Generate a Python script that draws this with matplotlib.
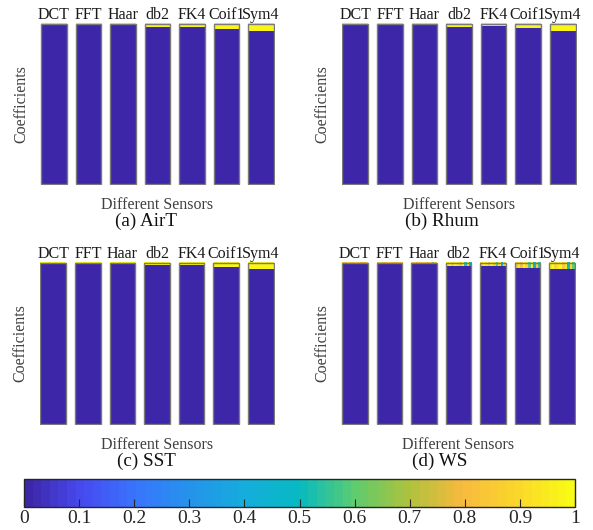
import matplotlib
matplotlib.use('Agg')
import matplotlib.pyplot as plt
import numpy as np
from matplotlib.colors import LinearSegmentedColormap, Normalize
from matplotlib.cm import ScalarMappable
from matplotlib.patches import Rectangle

plt.rcParams['font.family'] = ['Liberation Serif', 'DejaVu Serif']

# ---- data ----
METHODS = ['DCT', 'FFT', 'Haar', 'db2', 'FK4', 'Coif1', 'Sym4']
CAPTIONS = ['(a) AirT', '(b) Rhum', '(c) SST', '(d) WS']
N_COEF = 160      # coefficients (rows of each bar)
N_SENS = 10       # sensors (columns of each bar)

# rows of large (normalised) coefficients at the top of each bar
BAND_AIRT = [2, 2, 2, 4, 4, 6, 8]
BAND_RHUM = [2, 2, 2, 4, 3, 5, 8]
BAND_SST = [2, 2, 2, 3, 3, 5, 7]
BAND_WS = [2, 2, 2, 4, 4, 6, 7]
BAND_LEVEL = 0.98  # AirT / Rhum / SST: uniform yellow band

# WS: level of the top band per sensor
WS_DCT = [0.85, 0.80, 0.90, 0.85, 0.80, 0.90, 0.85, 0.75, 0.80, 0.85]
WS_FFT = [0.80, 0.85, 0.75, 0.80, 0.85, 0.80, 0.75, 0.80, 0.85, 0.80]
WS_HAAR = [0.85, 0.90, 0.80, 0.85, 0.90, 0.85, 0.80, 0.90, 0.60, 0.85]
WS_DB2 = [0.95, 1.00, 0.90, 1.00, 0.95, 0.85, 1.00, 0.55, 0.90, 0.50]
WS_FK4 = [0.90, 1.00, 0.95, 0.85, 1.00, 0.90, 0.60, 0.95, 0.50, 0.90]
WS_COIF1 = [0.85, 0.95, 0.80, 1.00, 0.90, 0.60, 0.95, 0.45, 0.85, 0.55]
WS_SYM4 = [0.95, 1.00, 0.90, 0.95, 1.00, 0.85, 0.95, 0.50, 0.90, 0.60]

CB_TICKS = [0, 0.1, 0.2, 0.3, 0.4, 0.5, 0.6, 0.7, 0.8, 0.9, 1]
CB_LABELS = ['0', '0.1', '0.2', '0.3', '0.4', '0.5', '0.6', '0.7', '0.8', '0.9', '1']

# parula-like colormap
PARULA = [(0.2422, 0.1504, 0.6603), (0.2760, 0.2930, 0.9400), (0.2200, 0.4600, 0.9900),
          (0.1400, 0.5800, 0.9200), (0.0800, 0.6800, 0.8600), (0.0200, 0.7300, 0.7600),
          (0.3600, 0.8000, 0.4400), (0.6800, 0.7600, 0.2400), (0.9700, 0.7300, 0.2400),
          (0.9800, 0.8400, 0.1700), (0.9769, 0.9839, 0.0805)]
cmap = LinearSegmentedColormap.from_list('parula', PARULA, N=64)

W, H = 593, 530
fig = plt.figure(figsize=(W / 100, H / 100), dpi=100, facecolor='white')


def px_axes(left, top, width, height):
    return fig.add_axes([left / W, 1 - (top + height) / H, width / W, height / H])


BAR_W = 26.0
PITCH = 34.8
# panel boxes in pixels: left, top, width, height
PANELS = [(40, 23, 235, 162), (341.5, 23, 235, 162), (39.5, 262, 235, 163), (341, 262, 235, 163)]
CAP_X = [146, 442, 146, 440]

bands = [BAND_AIRT, BAND_RHUM, BAND_SST, BAND_WS]
ws_levels = [WS_DCT, WS_FFT, WS_HAAR, WS_DB2, WS_FK4, WS_COIF1, WS_SYM4]

for p, (left, top, w, h) in enumerate(PANELS):
    ax = px_axes(left, top, w, h)
    for i, m in enumerate(METHODS):
        mat = np.zeros((N_COEF, N_SENS))
        k = bands[p][i]
        if p == 3:
            mat[:k, :] = np.array(ws_levels[i])[None, :]
        else:
            mat[:k, :] = BAND_LEVEL
        x0 = i * PITCH
        ax.imshow(mat, cmap=cmap, vmin=0, vmax=1, extent=(x0, x0 + BAR_W, N_COEF, 0),
                  origin='upper', aspect='auto', interpolation='nearest')
        ax.add_patch(Rectangle((x0, 0), BAR_W, N_COEF, fill=False, ec='#7a7a7a', lw=1.0))
        ax.annotate(m, (x0 + BAR_W / 2, 0), xytext=(0, 3.6), textcoords='offset points',
                    ha='center', va='baseline', fontsize=11.5, color='#1a1a1a',
                    annotation_clip=False)
    ax.set_xlim(-1, 6 * PITCH + BAR_W + 1)
    ax.set_ylim(N_COEF + 0.8, -0.8)
    ax.axis('off')

    cx = left + w / 2
    fig.text((left - 19) / W, 1 - (top + h / 2) / H, 'Coefficients', rotation=90,
             ha='center', va='center', fontsize=11.5, color='#404040')
    fig.text(cx / W, 1 - (top + h + 20) / H, 'Different Sensors',
             ha='center', va='center', fontsize=11.5, color='#404040')
    fig.text(CAP_X[p] / W, 1 - (top + h + 36) / H, CAPTIONS[p],
             ha='center', va='center', fontsize=13.8, color='#111111')

# colorbar
cax = px_axes(24, 479, 551, 28)
cb = fig.colorbar(ScalarMappable(norm=Normalize(0, 1), cmap=cmap), cax=cax,
                  orientation='horizontal', ticks=CB_TICKS)
cb.ax.set_xticklabels(CB_LABELS)
cb.ax.tick_params(direction='in', length=6, width=0.8, labelsize=14, pad=2,
                  colors='#262626')
cb.outline.set_linewidth(1.0)
cb.outline.set_edgecolor('#262626')

fig.savefig('out.png', dpi=100, facecolor='white')
